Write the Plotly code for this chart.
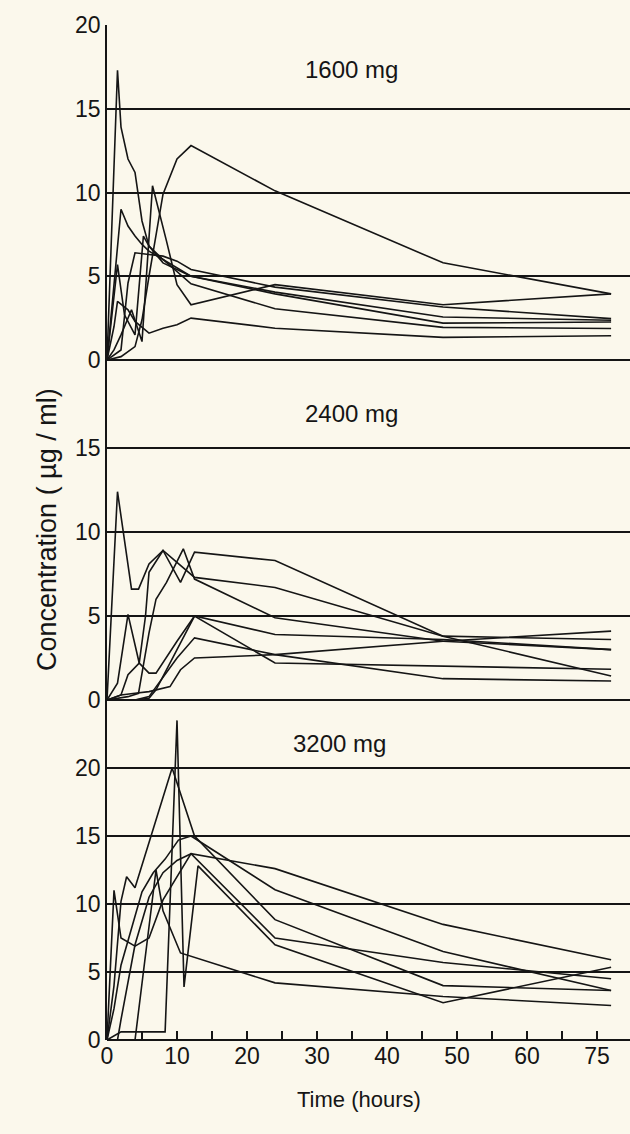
import plotly.graph_objects as go
from plotly.subplots import make_subplots

# ---------------- data (hours, concentration ug/ml) ----------------
# 1600 mg
t1_a = [0, 1.5, 2, 3, 4, 5, 6, 8, 12, 24, 48, 72]
c1_a = [0, 17.3, 13.9, 12.0, 11.2, 8.3, 6.8, 5.8, 5.0, 3.95, 2.2, 2.27]
t1_b = [0, 1, 2, 3.5, 5, 6.5, 8.5, 10, 12, 24, 48, 72]
c1_b = [0, 0.6, 1.5, 3.0, 1.1, 10.4, 7.1, 4.5, 3.3, 4.5, 3.3, 3.95]
t1_c = [0, 2, 3, 4, 5, 6, 8, 12, 24, 48, 72]
c1_c = [0, 9.0, 8.0, 7.4, 6.9, 6.5, 6.0, 4.55, 3.06, 1.95, 1.88]
t1_d = [0, 1.5, 2.5, 4, 5.2, 6, 8, 12, 24, 48, 72]
c1_d = [0, 5.7, 2.7, 1.5, 7.4, 6.8, 6.0, 5.0, 4.05, 2.57, 2.37]
t1_e = [0, 2, 3, 4, 6, 8, 10, 12, 24, 48, 72]
c1_e = [0, 0.6, 4.6, 6.4, 6.3, 6.2, 5.9, 5.4, 4.35, 3.16, 2.47]
t1_f = [0, 2, 4, 5, 6, 8, 10, 12, 24, 48, 72]
c1_f = [0, 0.2, 0.8, 2.4, 5.0, 9.9, 12.0, 12.8, 10.1, 5.8, 3.95]
t1_g = [0, 1, 1.5, 3, 4, 6, 8, 10, 12, 24, 48, 72]
c1_g = [0, 2.0, 3.5, 3.0, 2.3, 1.6, 1.9, 2.1, 2.5, 1.9, 1.35, 1.45]

# 2400 mg
t2_a = [0, 1.5, 3.5, 4.5, 6, 8, 10.5, 12.5, 24, 48, 72]
c2_a = [0, 12.4, 6.6, 6.6, 8.1, 8.9, 7.0, 8.8, 8.3, 3.8, 1.43]
t2_b = [0, 2, 3, 4.6, 5.5, 6, 8, 12.5, 24, 48, 72]
c2_b = [0, 0.3, 1.5, 2.2, 5.0, 7.6, 8.9, 7.3, 6.7, 3.8, 3.6]
t2_c = [0, 3, 4.5, 6, 7, 8.5, 10.9, 12.5, 24, 48, 72]
c2_c = [0, 0.2, 0.4, 4.0, 6.0, 7.0, 9.0, 7.2, 4.9, 3.5, 3.0]
t2_d = [0, 1.5, 3, 4.6, 6, 7, 10, 12.5, 24, 48, 72]
c2_d = [0, 1.0, 5.1, 2.2, 1.6, 1.6, 3.5, 5.0, 3.9, 3.6, 3.0]
t2_e = [0, 4, 6, 7, 10, 12.5, 24, 48, 72]
c2_e = [0, 0, 0.1, 0.6, 3.0, 5.0, 2.2, 2.0, 1.83]
t2_f = [0, 4, 6, 10, 12.5, 24, 48, 72]
c2_f = [0, 0, 0.2, 2.5, 3.7, 2.7, 1.27, 1.13]
t2_g = [0, 2, 4, 6, 9, 10.5, 12.5, 24, 48, 72]
c2_g = [0, 0.3, 0.4, 0.5, 0.8, 1.8, 2.5, 2.7, 3.5, 4.1]

# 3200 mg
t3_a = [0, 2, 8.3, 10, 11, 13, 24, 48, 72]
c3_a = [0, 0.6, 0.6, 23.5, 3.9, 12.8, 7.0, 2.74, 5.35]
t3_b = [0, 1, 2, 2.8, 4, 9.3, 12.5, 24, 48, 72]
c3_b = [0, 4.0, 10.2, 12.0, 11.2, 20.0, 15.0, 8.85, 4.0, 3.64]
t3_c = [0, 1, 2, 4, 6, 8, 12, 24, 48, 72]
c3_c = [0, 11.0, 7.5, 6.9, 7.5, 10.3, 13.7, 12.6, 8.5, 5.9]
t3_d = [0, 1, 2, 5, 6.6, 8.3, 10.2, 12, 24, 48, 72]
c3_d = [0, 2.3, 5.5, 10.9, 12.3, 13.3, 14.7, 15.0, 11.05, 6.5, 3.64]
t3_e = [0, 1.5, 2, 4, 6, 8, 10, 12, 24, 48, 72]
c3_e = [0, 0, 1.5, 7.0, 10.5, 12.3, 13.2, 13.7, 7.5, 5.7, 4.5]
t3_f = [0, 4, 7, 8, 10.5, 24, 48, 72]
c3_f = [0, 0, 12.5, 9.5, 6.4, 4.2, 3.2, 2.54]

panels = [
    ("1600 mg", [(t1_a, c1_a), (t1_b, c1_b), (t1_c, c1_c), (t1_d, c1_d),
                 (t1_e, c1_e), (t1_f, c1_f), (t1_g, c1_g)]),
    ("2400 mg", [(t2_a, c2_a), (t2_b, c2_b), (t2_c, c2_c), (t2_d, c2_d),
                 (t2_e, c2_e), (t2_f, c2_f), (t2_g, c2_g)]),
    ("3200 mg", [(t3_a, c3_a), (t3_b, c3_b), (t3_c, c3_c), (t3_d, c3_d),
                 (t3_e, c3_e), (t3_f, c3_f)]),
]

y_ticks = [[0, 5, 10, 15, 20], [0, 5, 10, 15], [0, 5, 10, 15, 20]]
y_ranges = [[0, 20], [0, 20.24], [0, 25]]

x_tickvals = list(range(0, 75, 5))
x_ticktext = ["0", "", "10", "", "20", "", "30", "", "40", "", "50", "", "60", "", "75"]

# ---------------- figure ----------------
INK = "#151515"
BG = "#fbf8ec"
FONT = "Liberation Sans, Arial, sans-serif"

fig = make_subplots(rows=3, cols=1, shared_xaxes=True, vertical_spacing=0,
                    row_heights=[335, 340, 340])

for i, (label, series) in enumerate(panels):
    for t, c in series:
        fig.add_trace(go.Scatter(x=t, y=c, mode="lines",
                                 line=dict(color=INK, width=1.6),
                                 showlegend=False, hoverinfo="skip"),
                      row=i + 1, col=1)
    fig.update_yaxes(row=i + 1, col=1, range=y_ranges[i], tickmode="array",
                     tickvals=y_ticks[i], showgrid=True, gridcolor=INK,
                     gridwidth=1.6, zeroline=True, zerolinecolor=INK,
                     zerolinewidth=1.6, showline=True, linecolor=INK,
                     linewidth=1.6, ticks="", fixedrange=True,
                     tickfont=dict(family=FONT, size=23, color=INK))

for r in (1, 2, 3):
    fig.update_xaxes(row=r, col=1, range=[0, 74.7], showgrid=False,
                     zeroline=False, showline=False, tickmode="array",
                     tickvals=x_tickvals, ticktext=x_ticktext,
                     showticklabels=(r == 3), ticks=("inside" if r == 3 else ""),
                     ticklen=9, tickwidth=1.6, tickcolor=INK,
                     tickfont=dict(family=FONT, size=23, color=INK))

titles_pos = [(0.468, 0.9557), (0.468, 0.6177), (0.4455, 0.2926)]
for (label, _), (px, py) in zip(panels, titles_pos):
    fig.add_annotation(text=label, x=px, y=py, xref="paper", yref="paper",
                       xanchor="center", yanchor="middle", showarrow=False,
                       font=dict(family=FONT, size=24, color=INK))

fig.add_annotation(text="Concentration ( µg / ml)", x=-0.1147, y=0.5025,
                   xref="paper", yref="paper", textangle=-90, showarrow=False,
                   xanchor="center", yanchor="middle",
                   font=dict(family=FONT, size=27, color=INK))
fig.add_annotation(text="Time (hours)", x=0.482, y=-0.059,
                   xref="paper", yref="paper", showarrow=False,
                   xanchor="center", yanchor="middle",
                   font=dict(family=FONT, size=22, color=INK))

fig.update_layout(width=630, height=1134, margin=dict(l=107, r=0, t=25, b=94),
                  paper_bgcolor=BG, plot_bgcolor=BG, showlegend=False)

fig.write_html("out.html")
